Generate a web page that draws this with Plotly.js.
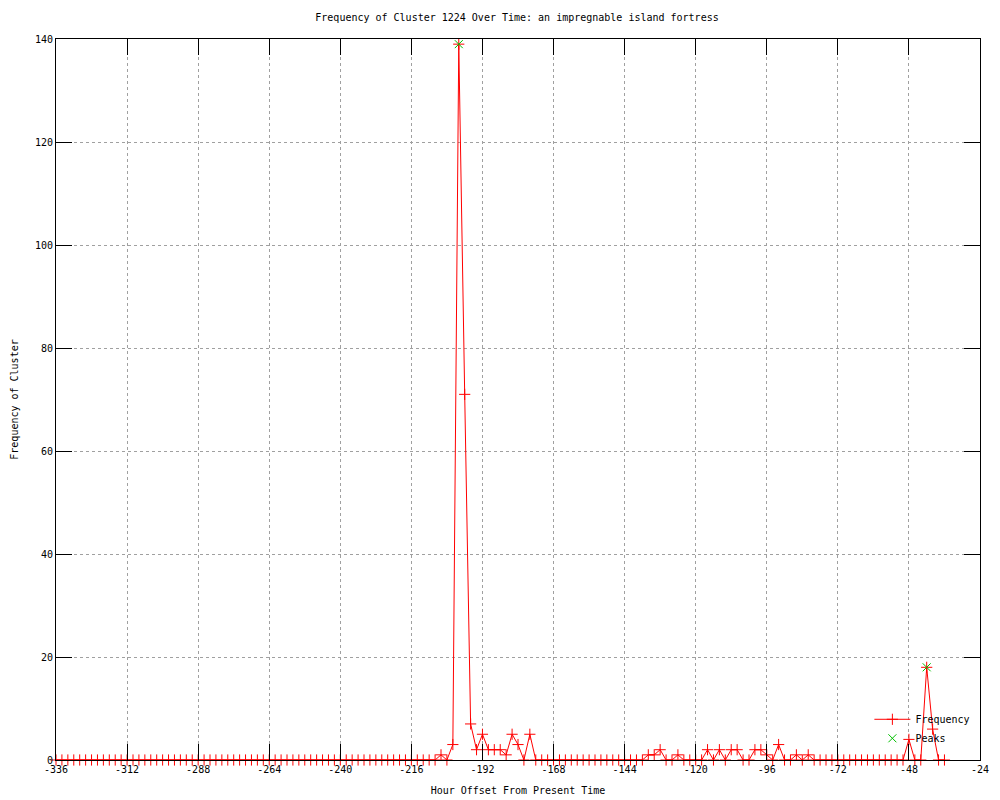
<!DOCTYPE html>
<html>
<head>
<meta charset="utf-8">
<script src="https://cdn.plot.ly/plotly-3.0.1.min.js"></script>
<style>html,body{margin:0;padding:0;background:#fff;}#chart{width:1000px;height:800px;}</style>
</head>
<body>
<div id="chart"></div>
<script>
// Hours (offset from present time) and frequency values
const hours = [
  -336,-334,-332,-330,-328,-326,-324,-322,-320,-318,-316,-314,-312,-310,-308,-306,-304,-302,-300,-298,
  -296,-294,-292,-290,-288,-286,-284,-282,-280,-278,-276,-274,-272,-270,-268,-266,-264,-262,-260,-258,
  -256,-254,-252,-250,-248,-246,-244,-242,-240,-238,-236,-234,-232,-230,-228,-226,-224,-222,-220,-218,
  -216,-214,-212,-210,-208,-206,-204,-202,-200,-198,-196,-194,-192,-190,-188,-186,-184,-182,-180,-178,
  -176,-174,-172,-170,-168,-166,-164,-162,-160,-158,-156,-154,-152,-150,-148,-146,-144,-142,-140,-138,
  -136,-134,-132,-130,-128,-126,-124,-122,-120,-118,-116,-114,-112,-110,-108,-106,-104,-102,-100,-98,
  -96,-94,-92,-90,-88,-86,-84,-82,-80,-78,-76,-74,-72,-70,-68,-66,-64,-62,-60,-58,
  -56,-54,-52,-50,-48,-46,-44,-42,-40,-38,-36
];
const frequency = [
  0,0,0,0,0,0,0,0,0,0,0,0,0,0,0,0,0,0,0,0,
  0,0,0,0,0,0,0,0,0,0,0,0,0,0,0,0,0,0,0,0,
  0,0,0,0,0,0,0,0,0,0,0,0,0,0,0,0,0,0,0,0,
  0,0,0,0,0,1,0,3,139,71,7,2,5,2,2,2,1,5,3,0,
  5,0,0,0,0,0,0,0,0,0,0,0,0,0,0,0,0,0,0,0,
  1,1,2,0,0,1,0,0,0,0,2,0,2,0,2,2,0,0,2,2,
  1,0,3,0,0,1,0,1,0,0,0,0,0,0,0,0,0,0,0,0,
  0,0,0,0,4,0,0,18,6,0,0
];
const peakHours = [-200, -42];
const peakValues = [139, 18];
const xTicks = [-336,-312,-288,-264,-240,-216,-192,-168,-144,-120,-96,-72,-48,-24];
const yTicks = [0,20,40,60,80,100,120,140];

const FONT = "DejaVu Sans Mono, Liberation Mono, monospace";

const traces = [
  {
    x: hours, y: frequency, type: 'scatter', mode: 'lines+markers', name: 'Frequency',
    cliponaxis: false,
    line: {color: '#ff0000', width: 1},
    marker: {symbol: 'cross-thin-open', size: 8, color: '#ff0000', line: {color: '#ff0000', width: 1}}
  },
  {
    x: peakHours, y: peakValues, type: 'scatter', mode: 'markers', name: 'Peaks',
    cliponaxis: false,
    marker: {symbol: 'x-thin-open', size: 8, color: '#00c000', line: {color: '#00c000', width: 1}}
  }
];

const axisCommon = {
  showline: true, linecolor: '#000', linewidth: 1, mirror: 'ticks',
  ticks: 'inside', ticklen: 16, tickwidth: 1, tickcolor: '#000',
  showgrid: true, gridcolor: '#a0a0a0', griddash: 'dot', gridwidth: 1,
  zeroline: false, tickfont: {family: FONT, size: 10, color: '#000'}
};

const layout = {
  width: 1000, height: 800,
  paper_bgcolor: '#fff', plot_bgcolor: '#fff',
  margin: {l: 56, r: 20, t: 39, b: 40},
  font: {family: FONT, size: 10, color: '#000'},
  title: {text: 'Frequency of Cluster 1224 Over Time: an impregnable island fortress',
          font: {family: FONT, size: 10, color: '#000'}, x: 0.517, xanchor: 'center', y: 0.978, yanchor: 'middle'},
  xaxis: Object.assign({}, axisCommon, {
    range: [-336, -24], tickmode: 'array', tickvals: xTicks, ticktext: xTicks.map(String),
    title: {text: 'Hour Offset From Present Time', font: {family: FONT, size: 10, color: '#000'}, standoff: 12}
  }),
  yaxis: Object.assign({}, axisCommon, {
    range: [0, 140], tickmode: 'array', tickvals: yTicks, ticktext: yTicks.map(String),
    title: {text: 'Frequency of Cluster', font: {family: FONT, size: 10, color: '#000'}, standoff: 14}
  }),
  showlegend: true,
  legend: {x: 0.995, xanchor: 'right', y: 0.01, yanchor: 'bottom', bgcolor: 'rgba(0,0,0,0)',
           font: {family: FONT, size: 10, color: '#000'}, tracegroupgap: 0, itemwidth: 36}
};

Plotly.newPlot('chart', traces, layout, {displayModeBar: false, staticPlot: true});
</script>
</body>
</html>
